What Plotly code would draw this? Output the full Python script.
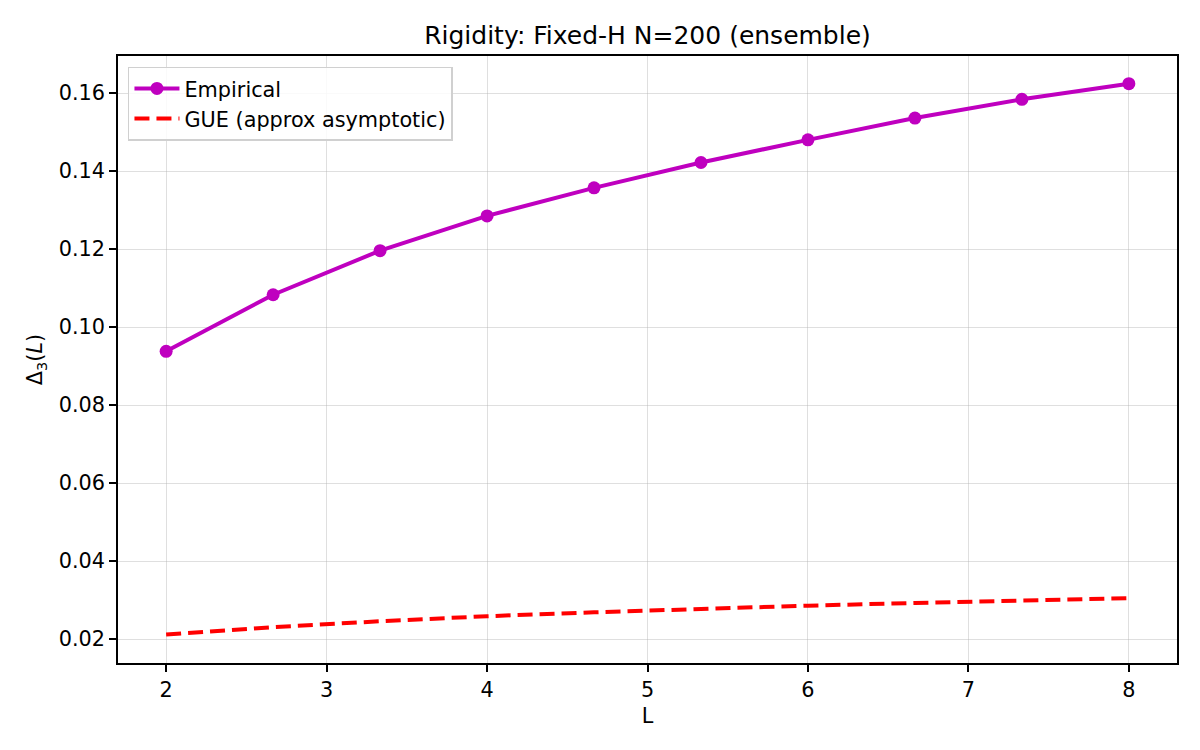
import plotly.graph_objects as go

L_VALUES = [2.0, 2.6667, 3.3333, 4.0, 4.6667, 5.3333, 6.0, 6.6667, 7.3333, 8.0]
EMPIRICAL = [0.0938, 0.1083, 0.1196, 0.1285, 0.1357, 0.1422, 0.1480, 0.1536, 0.1584, 0.1624]
GUE_APPROX = [0.0212, 0.0231, 0.0246, 0.0259, 0.0269, 0.0278, 0.0286, 0.0293, 0.0299, 0.0305]

Y_TICKS = [0.02, 0.04, 0.06, 0.08, 0.10, 0.12, 0.14, 0.16]
X_TICKS = [2, 3, 4, 5, 6, 7, 8]

FONT = "DejaVu Sans"
FS = 20.8

fig = go.Figure()

fig.add_trace(go.Scatter(
    x=L_VALUES, y=EMPIRICAL,
    mode='lines+markers',
    line=dict(color='#bf00bf', width=4),
    marker=dict(size=13, color='#bf00bf'),
    name='Empirical'
))

fig.add_trace(go.Scatter(
    x=L_VALUES, y=GUE_APPROX,
    mode='lines',
    line=dict(color='#ff0000', width=4, dash='15px,7px'),
    name='GUE (approx asymptotic)'
))

axis_common = dict(
    showline=True, linecolor='black', linewidth=1.7, mirror=True,
    ticks='outside', ticklen=7, tickwidth=1.7, tickcolor='black',
    showgrid=True, gridcolor='rgba(176,176,176,0.4)', gridwidth=1.2,
    zeroline=False,
    tickfont=dict(family=FONT, size=FS, color='black'),
)

fig.update_layout(
    width=1200, height=750,
    paper_bgcolor='white', plot_bgcolor='white',
    font=dict(family=FONT, size=FS, color='black'),
    title=dict(
        text="Rigidity: Fixed-H N=200 (ensemble)",
        xref='paper', x=0.5, xanchor='center', y=0.964, yanchor='middle',
        font=dict(family=FONT, size=25, color='black')
    ),
    xaxis=dict(
        range=[1.7, 8.3], tickvals=X_TICKS,
        title=dict(text="L", standoff=8, font=dict(family=FONT, size=FS)),
        **axis_common
    ),
    yaxis=dict(
        range=[0.0139, 0.1695], tickvals=Y_TICKS, tickformat='.2f',
        title=dict(text="Δ<sub>3</sub>(<i>L</i>)", standoff=10, font=dict(family=FONT, size=FS)),
        **axis_common
    ),
    legend=dict(
        x=0.0094, y=0.982, xanchor='left', yanchor='top',
        bgcolor='rgba(255,255,255,0.85)',
        bordercolor='#d0d0d0', borderwidth=1.5,
        font=dict(family=FONT, size=FS, color='black'),
        itemwidth=45,
        tracegroupgap=0
    ),
    margin=dict(l=110, r=31, t=48, b=95),
)

fig.write_html("out.html")
